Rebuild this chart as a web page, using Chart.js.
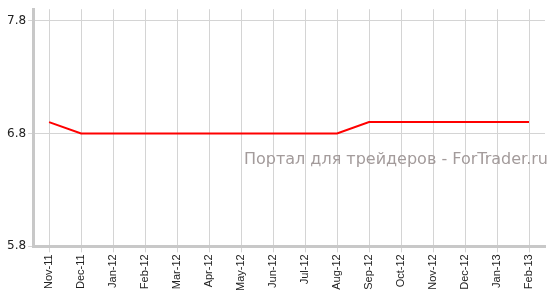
<!DOCTYPE html>
<html>
<head>
<meta charset="utf-8">
<script src="https://cdn.jsdelivr.net/npm/chart.js@4"></script>
<style>
  body { margin: 0; background: #fff; }
  #wrap { width: 555px; height: 297px; }
</style>
</head>
<body>
<div id="wrap"><canvas id="rateChart"></canvas></div>
<script>
// data
const months = ['Nov-11', 'Dec-11', 'Jan-12', 'Feb-12', 'Mar-12', 'Apr-12', 'May-12', 'Jun-12',
    'Jul-12', 'Aug-12', 'Sep-12', 'Oct-12', 'Nov-12', 'Dec-12', 'Jan-13', 'Feb-13'];
const rate = [6.9, 6.8, 6.8, 6.8, 6.8, 6.8, 6.8, 6.8, 6.8, 6.8, 6.9, 6.9, 6.9, 6.9, 6.9, 6.9];
const yTicks = [5.8, 6.8, 7.8];

// watermark text over the plot
const watermark = {
    id: 'watermark',
    afterDatasetsDraw(chart) {
        const ctx = chart.ctx;
        ctx.save();
        ctx.font = '16px "DejaVu Sans"';
        ctx.fillStyle = '#a39b9b';
        ctx.textAlign = 'right';
        ctx.textBaseline = 'middle';
        ctx.fillText('Портал для трейдеров - ForTrader.ru', chart.chartArea.right + 3, 160);
        ctx.restore();
    }
};

new Chart(document.getElementById('rateChart'), {
    type: 'line',
    data: {
        labels: months,
        datasets: [{
            data: rate,
            borderColor: '#ff0000',
            borderWidth: 2,
            pointRadius: 0,
            tension: 0,
            fill: false
        }]
    },
    options: {
        responsive: true,
        maintainAspectRatio: false,
        animation: false,
        layout: { padding: { top: 8, right: 10, left: 5, bottom: 4 } },
        plugins: { legend: { display: false }, tooltip: { enabled: false } },
        scales: {
            x: {
                offset: true,
                grid: { color: '#d4d4d4', lineWidth: 1, offset: false, tickLength: 6 },
                border: { color: '#c8c8c8', width: 3 },
                ticks: {
                    color: '#222',
                    font: { family: 'Liberation Sans', size: 11 },
                    minRotation: 90,
                    maxRotation: 90,
                    autoSkip: false,
                    padding: 2
                }
            },
            y: {
                min: 5.8,
                max: 7.9,
                afterBuildTicks(scale) {
                    scale.ticks = yTicks.map(v => ({ value: v }));
                },
                grid: { color: '#d4d4d4', lineWidth: 1, tickLength: 5 },
                border: { color: '#c8c8c8', width: 3 },
                ticks: {
                    color: '#222',
                    font: { family: 'DejaVu Sans', size: 12 },
                    padding: 2,
                    callback: v => v.toFixed(1)
                }
            }
        }
    },
    plugins: [watermark]
});
</script>
</body>
</html>
